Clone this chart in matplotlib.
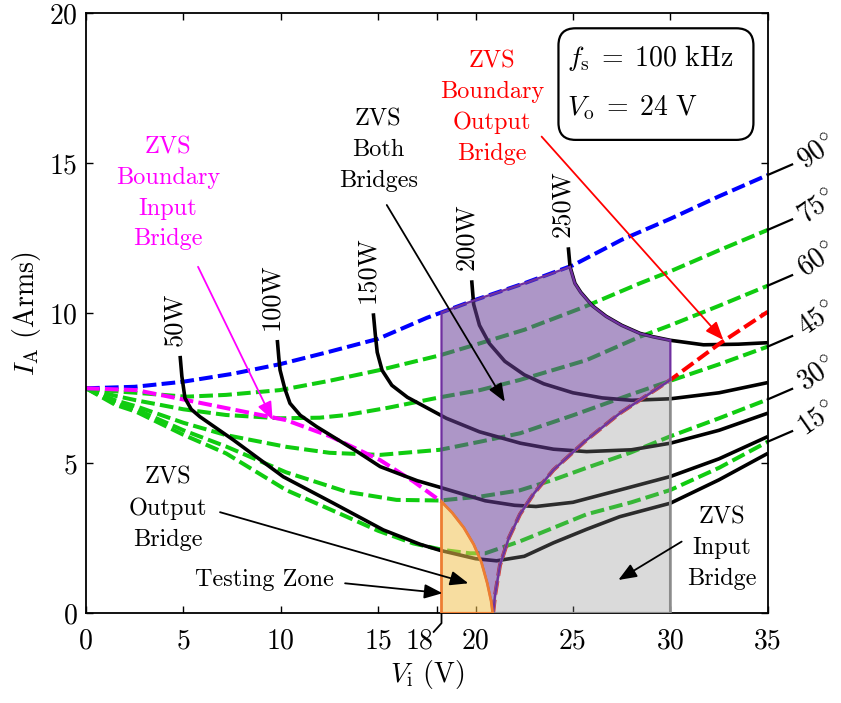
import numpy as np
import matplotlib
matplotlib.use('Agg')
import matplotlib.pyplot as plt
from matplotlib.patches import Polygon, FancyBboxPatch

plt.rcParams['font.family'] = 'cmr10'
plt.rcParams['mathtext.fontset'] = 'cm'
plt.rcParams['axes.formatter.use_mathtext'] = True

# ---------------- data ----------------
# constant phase-shift curves (I_A vs V_i)
vi_90 = [0, 2.5, 5, 7.5, 10, 12.5, 15, 17.5, 20, 22.5, 25, 27.5, 30, 32.5, 35]
ia_90 = [7.5, 7.55, 7.72, 7.98, 8.31, 8.72, 9.15, 9.85, 10.45, 11.0, 11.6, 12.45, 13.15, 13.9, 14.61]

vi_75 = [0, 1.5, 2.57, 5.13, 7.19, 9.96, 12.5, 15.09, 18.17, 20.23, 22.5, 25.53, 28.44, 30, 32.5, 35]
ia_75 = [7.5, 7.4, 7.35, 7.22, 7.28, 7.44, 7.75, 8.11, 8.6, 9.0, 9.45, 10.2, 11.0, 11.4, 12.1, 12.78]

vi_60 = [0, 1.5, 2.57, 5, 7.19, 9.96, 12, 13.38, 15.5, 18.17, 20.23, 22.28, 25.7, 28.44, 30, 32.5, 35]
ia_60 = [7.5, 7.25, 7.1, 6.8, 6.61, 6.5, 6.52, 6.61, 6.85, 7.2, 7.44, 7.78, 8.44, 9.22, 9.6, 10.25, 10.92]

vi_45 = [0, 1.5, 2.57, 5, 7.19, 10.27, 12.5, 15.09, 18.17, 20.23, 22.28, 25, 28, 30, 32.5, 35]
ia_45 = [7.5, 7.1, 6.9, 6.35, 5.94, 5.55, 5.35, 5.28, 5.45, 5.72, 6.0, 6.6, 7.3, 7.75, 8.3, 8.89]

vi_30 = [0, 1.5, 2.57, 5, 7.19, 10.27, 13.38, 15.94, 18.17, 20.23, 22.28, 24, 25.7, 27.93, 30, 32.5, 35]
ia_30 = [7.5, 7.0, 6.8, 6.1, 5.56, 4.7, 4.05, 3.78, 3.76, 3.89, 4.1, 4.45, 4.85, 5.35, 5.9, 6.5, 7.13]

vi_15 = [0, 1.5, 2.57, 5, 7.19, 10.27, 13.38, 15, 16.8, 18.34, 19.7, 20.5, 22.28, 24, 25.7, 28, 30, 32.5, 35]
ia_15 = [7.5, 6.95, 6.72, 5.95, 5.33, 4.11, 3.22, 2.75, 2.33, 2.11, 2.0, 2.0, 2.4, 2.85, 3.3, 3.7, 4.11, 4.85, 5.72]

# constant power curves
vi_50w = [4.83, 4.92, 5.08, 5.4, 5.85, 7.56, 10.13, 12.7, 15.26, 17.15, 18.17, 20, 21.08, 22.5, 24, 25.7, 27.4, 30, 32.5, 35]
ia_50w = [8.58, 7.9, 7.17, 6.8, 6.55, 5.78, 4.55, 3.67, 2.78, 2.3, 2.1, 1.82, 1.75, 1.9, 2.35, 2.8, 3.22, 3.67, 4.45, 5.33]

vi_100w = [9.82, 9.9, 9.96, 10.2, 10.47, 11.0, 11.84, 13.8, 15.1, 17.0, 18.17, 20.5, 22, 23.1, 25, 27.4, 30, 32.5, 35]
ia_100w = [9.11, 8.5, 8.11, 7.5, 7.0, 6.6, 6.22, 5.44, 4.89, 4.42, 4.2, 3.75, 3.6, 3.56, 3.7, 4.11, 4.56, 5.15, 5.89]

vi_150w = [14.75, 14.85, 14.95, 15.2, 15.7, 16.5, 17.5, 18.5, 20.2, 22.3, 24, 25.7, 28, 30, 32.5, 35]
ia_150w = [10.0, 9.3, 8.7, 8.1, 7.6, 7.2, 6.85, 6.5, 6.05, 5.67, 5.47, 5.39, 5.45, 5.67, 6.1, 6.67]

vi_200w = [19.8, 19.9, 20.2, 20.7, 21.5, 22.5, 23.5, 25, 26.5, 28, 30, 32.5, 35]
ia_200w = [11.1, 10.3, 9.6, 9.0, 8.4, 7.95, 7.65, 7.35, 7.18, 7.1, 7.15, 7.35, 7.69]

vi_250w = [24.76, 24.85, 25.1, 25.4, 26.0, 26.7, 27.5, 28.44, 29.1, 30, 31.7, 33.5, 35]
ia_250w = [12.2, 11.55, 11.0, 10.7, 10.25, 9.9, 9.6, 9.33, 9.22, 9.1, 8.95, 8.97, 9.02]

# ZVS boundaries
vi_zin = [0, 2.57, 5.13, 7.5, 10.27, 12.53, 15.09, 16.8, 18.25]
ia_zin = [7.5, 7.44, 7.11, 6.8, 6.44, 5.9, 5.11, 4.4, 3.72]

vi_zin_tail = [18.25, 18.8, 19.4, 19.9, 20.3, 20.6, 20.8, 20.88]
ia_zin_tail = [3.72, 3.35, 2.85, 2.3, 1.7, 1.0, 0.4, 0.0]

vi_zout = [20.9, 21.0, 21.25, 21.7, 22.28, 23, 24, 25.7, 27.41, 30, 32.55, 35]
ia_zout = [0.0, 0.6, 1.6, 2.5, 3.3, 4.0, 4.78, 5.78, 6.67, 7.78, 9.0, 10.05]

zone_vi = [18.25, 30]

phase_labels = ['90', '75', '60', '45', '30', '15']
power_labels = ['50W', '100W', '150W', '200W', '250W']
xtick_vals = [0, 5, 10, 15, 18, 20, 25, 30, 35]
ytick_vals = [0, 5, 10, 15, 20]

# ---------------- figure ----------------
fig = plt.figure(figsize=(8.41, 7.03), dpi=100)
ax = fig.add_axes([0.1023, 0.1276, 0.8106, 0.8535])
ax.set_xlim(0, 35)
ax.set_ylim(0, 20)

GREEN = '#10cc10'
dash = (0, (3.4, 1.3))
lw_d = 2.9

phase_curves = [(vi_90, ia_90), (vi_75, ia_75), (vi_60, ia_60),
                (vi_45, ia_45), (vi_30, ia_30), (vi_15, ia_15)]
for x, y in phase_curves[1:]:
    ax.plot(x, y, color=GREEN, lw=lw_d, ls=dash, zorder=2)
ax.plot(vi_90, ia_90, color='#0000ff', lw=lw_d, ls=dash, zorder=2.1)
ax.plot(vi_zin, ia_zin, color='#ff00ff', lw=lw_d, ls=dash, zorder=2.2)
ax.plot(vi_zout, ia_zout, color='#ff0000', lw=lw_d, ls=dash, zorder=2.4)

power_curves = [(vi_50w, ia_50w), (vi_100w, ia_100w), (vi_150w, ia_150w),
                (vi_200w, ia_200w), (vi_250w, ia_250w)]
for (x, y), lab in zip(power_curves, power_labels):
    ax.plot(x, y, color='black', lw=2.6, zorder=2.3, solid_capstyle='butt')
    ax.text(x[0] - 0.3, y[0] + 0.33, lab, rotation=90, ha='center', va='bottom',
            fontsize=19, zorder=6)

# ---------------- regions ----------------
x0, x1 = zone_vi
blue_top = np.interp(x0, vi_90, ia_90)
red_x1 = np.interp(x1, vi_zout, ia_zout)
p250_x1 = np.interp(x1, vi_250w, ia_250w)

# purple: ZVS both bridges
pts = [(x0, ia_zin_tail[0]), (x0, blue_top)]
pts += [(a, b) for a, b in zip(vi_90, ia_90) if x0 < a < vi_250w[1]]
pts += [(a, b) for a, b in zip(vi_250w[1:], ia_250w[1:]) if a < x1]
pts += [(x1, p250_x1), (x1, red_x1)]
pts += [(a, b) for a, b in zip(vi_zout[::-1], ia_zout[::-1]) if a < x1]
pts += list(zip(vi_zin_tail[::-1], ia_zin_tail[::-1]))
ax.add_patch(Polygon(pts, closed=True, fc=(0.42, 0.25, 0.60), alpha=0.55,
                     ec='none', zorder=3))
ax.add_patch(Polygon(pts, closed=True, fc='none', ec='#7030a0', lw=1.6, zorder=3.5))

# grey: ZVS input bridge
gpts = [(vi_zout[0], 0), (x1, 0), (x1, red_x1)]
gpts += [(a, b) for a, b in zip(vi_zout[::-1], ia_zout[::-1]) if a < x1]
ax.add_patch(Polygon(gpts, closed=True, fc=(0.55, 0.55, 0.55), alpha=0.32,
                     ec='none', zorder=3))
ax.add_patch(Polygon(gpts, closed=True, fc='none', ec='#8c8c8c', lw=2.0, zorder=3.4))

# orange: ZVS output bridge / testing zone
opts = [(x0, 0)] + list(zip(vi_zin_tail, ia_zin_tail))
ax.add_patch(Polygon(opts, closed=True, fc=(0.95, 0.76, 0.32), alpha=0.55,
                     ec='none', zorder=3.6))
ax.add_patch(Polygon(opts, closed=True, fc='none', ec='#ed7d31', lw=2.0, zorder=3.7))

# ---------------- phase labels at right ----------------
phase_y_lab = [15.39, 13.55, 11.78, 9.83, 8.0, 6.5]
for (x, y), lab, yl in zip(phase_curves, phase_labels, phase_y_lab):
    ax.plot([x[-1], x[-1] + 1.25], [y[-1], y[-1] + 0.35], color='black', lw=1.6,
            clip_on=False, zorder=5)
    ax.text(37.55, yl, r'$%s^{\!\circ}$' % lab, rotation=35, ha='center', va='center',
            fontsize=20, clip_on=False)

# ---------------- annotations ----------------
akw = dict(arrowstyle='-|>,head_length=0.5,head_width=0.2', mutation_scale=22,
           lw=1.3, shrinkA=0, shrinkB=0)
fs_a = 17.5
lsp = 1.5

ax.text(4.21, 14.0, 'ZVS\nBoundary\nInput\nBridge', color='#ff00ff', ha='center',
        va='center', fontsize=fs_a, linespacing=lsp)
ax.annotate('', xy=(9.58, 6.44), xytext=(5.75, 11.55),
            arrowprops=dict(color='#ff00ff', **akw), zorder=6)

ax.text(15.0, 15.44, 'ZVS\nBoth\nBridges', color='black', ha='center', va='center',
        fontsize=fs_a, linespacing=lsp)
ax.annotate('', xy=(21.5, 7.05), xytext=(15.44, 13.61),
            arrowprops=dict(color='black', **akw), zorder=6)

ax.text(20.83, 16.86, 'ZVS\nBoundary\nOutput\nBridge', color='#ff0000', ha='center',
        va='center', fontsize=fs_a, linespacing=lsp)
ax.annotate('', xy=(32.72, 9.11), xytext=(23.39, 15.89),
            arrowprops=dict(color='#ff0000', **akw), zorder=6)

ax.text(4.19, 3.48, 'ZVS\nOutput\nBridge', color='black', ha='center', va='center',
        fontsize=fs_a, linespacing=lsp)
ax.annotate('', xy=(19.63, 1.0), xytext=(6.88, 3.37),
            arrowprops=dict(color='black', **akw), zorder=6)

ax.text(9.14, 1.11, 'Testing Zone', color='black', ha='center', va='center',
        fontsize=fs_a)
ax.annotate('', xy=(18.3, 0.67), xytext=(13.3, 1.0),
            arrowprops=dict(color='black', **akw), zorder=6)

ax.text(32.63, 2.18, 'ZVS\nInput\nBridge', color='black', ha='center', va='center',
        fontsize=fs_a, linespacing=lsp)
ax.annotate('', xy=(27.33, 1.11), xytext=(30.58, 2.39),
            arrowprops=dict(color='black', **akw), zorder=6)

# parameter box
box = FancyBboxPatch((0.693, 0.789), 0.286, 0.186, transform=ax.transAxes,
                     boxstyle='round,pad=0,rounding_size=0.025',
                     mutation_aspect=681.7 / 600, fc='white', ec='black', lw=1.6, zorder=6)
ax.add_patch(box)
ax.text(0.705, 0.9255, r'$f_\mathrm{s} \;=\; 100\ \mathrm{kHz}$', transform=ax.transAxes,
        ha='left', va='center', fontsize=20, zorder=7)
ax.text(0.705, 0.8422, r'$V_\mathrm{o} \;=\; 24\ \mathrm{V}$', transform=ax.transAxes,
        ha='left', va='center', fontsize=20, zorder=7)

# ---------------- axes ----------------
ax.set_xticks(xtick_vals)
ax.set_xticklabels([('' if v == 18 else str(v)) for v in xtick_vals])
ax.set_yticks(ytick_vals)
ax.tick_params(direction='in', top=True, right=True, length=5, width=1.0,
               labelsize=20)
ax.tick_params(axis='x', pad=11)
ax.tick_params(axis='y', pad=6)
for s in ax.spines.values():
    s.set_linewidth(1.3)

# offset "18" tick label with leader
ax.plot([x0, x0, x0 - 0.4], [0, -0.33, -0.62], color='black', lw=1.3, clip_on=False)
ax.text(17.1, -0.95, '18', ha='center', va='center', fontsize=20, clip_on=False)

ax.set_xlabel(r'$V_\mathrm{i}$ (V)', fontsize=20)
ax.set_ylabel(r'$I_\mathrm{A}$ (Arms)', fontsize=20)
ax.xaxis.set_label_coords(0.5, -0.075)
ax.yaxis.set_label_coords(-0.063, 0.5)

fig.savefig('out.png', dpi=100)
